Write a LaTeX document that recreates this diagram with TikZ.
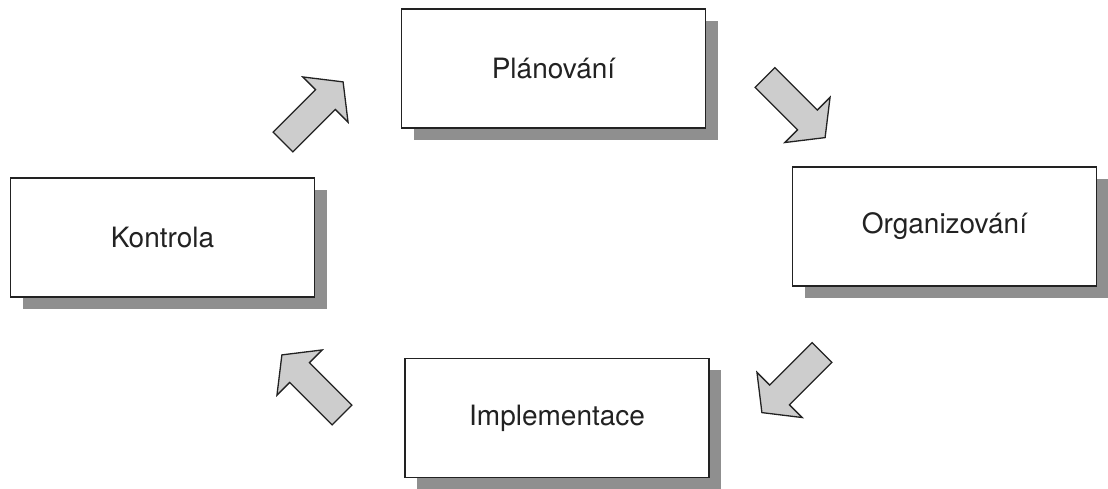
\documentclass[tikz,border=0pt]{standalone}
\usepackage{fontspec}
\setmainfont{TeX Gyre Heros}
\usetikzlibrary{shadows}
\definecolor{shadowgray}{HTML}{8F8F8F}
\definecolor{arrowgray}{HTML}{CDCDCD}
\definecolor{inkgray}{HTML}{222222}
\begin{document}
\begin{tikzpicture}[x=1pt,y=1pt,
  stagebox/.style={draw=inkgray, line width=1.4pt, fill=white, rectangle,
    minimum width=304pt, minimum height=119pt, inner sep=0pt,
    text=inkgray, font=\fontsize{28}{34}\selectfont,
    general shadow={fill=shadowgray, shadow xshift=12pt, shadow yshift=-12pt}},
  blockarrow/.style={draw=inkgray, line width=1.3pt, fill=arrowgray, line join=miter}
]
\useasboundingbox (0,0) rectangle (1108,489);

\node[stagebox] (plan) at (553.5,420.5) {Plánování};
\node[stagebox] (org)  at (944.5,262.5) {Organizování};
\node[stagebox] (kon)  at (162.5,251.5) {Kontrola};
\node[stagebox] (imp)  at (557,71)      {Implementace};

\coordinate (a1) at (283,347);
\coordinate (a2) at (765,411.5);
\coordinate (a3) at (822,136.5);
\coordinate (a4) at (342,74);

\foreach \c/\ang in {a1/45, a2/-45, a3/225, a4/135}{
  \draw[blockarrow, shift={(\c)}, rotate=\ang]
    (0,-14) -- (60,-14) -- (60,-32) -- (85,0) -- (60,32) -- (60,14) -- (0,14) -- cycle;
}
\end{tikzpicture}
\end{document}
